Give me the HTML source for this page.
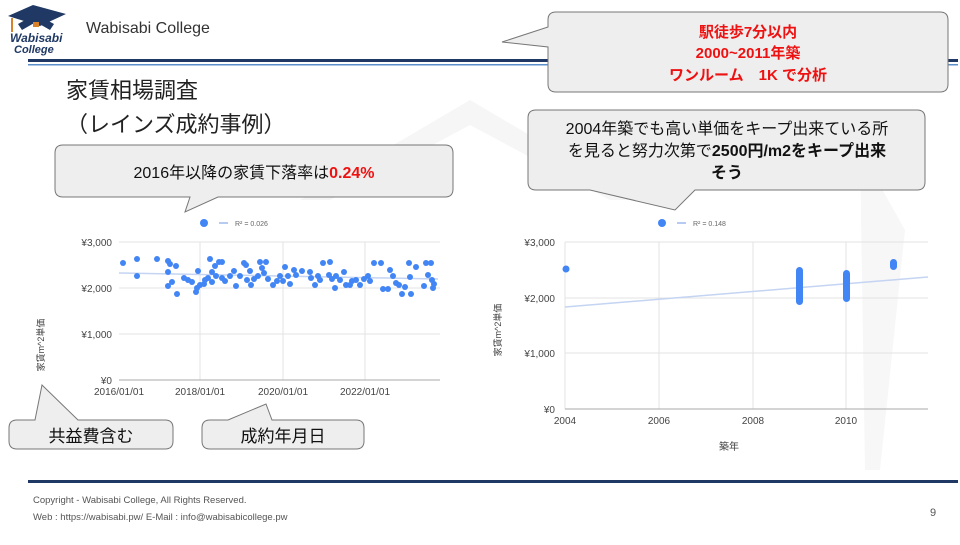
<!DOCTYPE html>
<html><head><meta charset="utf-8"><style>
body{margin:0;width:960px;height:540px;overflow:hidden;background:#fff;font-family:"Liberation Sans","Noto Sans CJK JP",sans-serif}
</style></head><body>
<svg width="960" height="540" viewBox="0 0 960 540" xmlns="http://www.w3.org/2000/svg" font-family="Liberation Sans, Noto Sans CJK JP, sans-serif">
<!-- watermark -->
<polygon points="300,200 470,100 640,200 610,200 470,125 330,200" fill="#f6f6f6"/>
<polygon points="860,150 905,230 880,470 865,470" fill="#f7f7f7"/>
<!-- logo -->
<polygon points="8,16 33,5 66,14 40,26" fill="#1f3864"/>
<polygon points="18,24 36,14 54,24 50,30 36,22 22,30" fill="#1f3864"/>
<rect x="33" y="22" width="6" height="5" fill="#d9822b"/>
<rect x="11" y="18" width="2" height="14" fill="#d9822b"/>
<text x="10" y="42" font-size="12" font-weight="bold" font-style="italic" fill="#1f3864">Wabisabi</text>
<text x="14" y="53" font-size="11" font-weight="bold" font-style="italic" fill="#1f3864">College</text>
<text x="86" y="33" font-size="16" fill="#333">Wabisabi College</text>
<rect x="28" y="59" width="930" height="3" fill="#1f3864"/>
<rect x="28" y="64" width="930" height="1.5" fill="#5b8fc9"/>
<!-- titles -->
<text x="66" y="98" font-size="22" fill="#222">家賃相場調査</text>
<text x="66" y="132" font-size="22" fill="#222">（レインズ成約事例）</text>
<!-- callout top-right -->
<path d="M556,12 H940 Q948,12 948,20 V84 Q948,92 940,92 H556 Q548,92 548,84 V47 L502,42 L548,27 V20 Q548,12 556,12 Z" fill="#eeeeee" stroke="#777" stroke-width="1"/>
<g font-size="15" font-weight="bold" fill="#ee1111" text-anchor="middle">
<text x="748" y="37">駅徒歩7分以内</text>
<text x="748" y="58">2000~2011年築</text>
<text x="748" y="80">ワンルーム　1K で分析</text>
</g>
<!-- callout 2 -->
<path d="M536,110 H917 Q925,110 925,118 V182 Q925,190 917,190 H695 L675,210 L590,190 H536 Q528,190 528,182 V118 Q528,110 536,110 Z" fill="#eeeeee" stroke="#777" stroke-width="1"/>
<g font-size="16" fill="#111" text-anchor="middle">
<text x="727" y="134">2004年築でも高い単価をキープ出来ている所</text>
<text x="727" y="156">を見ると努力次第で<tspan font-weight="bold">2500円/m2をキープ出来</tspan></text>
<text x="727" y="178" font-weight="bold">そう</text>
</g>
<!-- callout 3 -->
<path d="M63,145 H445 Q453,145 453,153 V189 Q453,197 445,197 H218 L185,212 L190,197 H63 Q55,197 55,189 V153 Q55,145 63,145 Z" fill="#eeeeee" stroke="#777" stroke-width="1"/>
<text x="254" y="178" font-size="16" fill="#111" text-anchor="middle">2016年以降の家賃下落率は<tspan fill="#ee1111" font-weight="bold">0.24%</tspan></text>
<!-- bottom callouts -->
<path d="M17,420 H35 L42,385 L78,420 H165 Q173,420 173,428 V441 Q173,449 165,449 H17 Q9,449 9,441 V428 Q9,420 17,420 Z" fill="#eeeeee" stroke="#777"/>
<text x="91" y="442" font-size="17" fill="#111" text-anchor="middle">共益費含む</text>
<path d="M210,420 H228 L266,404 L272,420 H356 Q364,420 364,428 V441 Q364,449 356,449 H210 Q202,449 202,441 V428 Q202,420 210,420 Z" fill="#eeeeee" stroke="#777"/>
<text x="283" y="442" font-size="17" fill="#111" text-anchor="middle">成約年月日</text>
<!-- footer -->
<rect x="28" y="480" width="930" height="3" fill="#1f3864"/>
<text x="33" y="503" font-size="9.5" fill="#555">Copyright - Wabisabi College, All Rights Reserved.</text>
<text x="33" y="520" font-size="9.5" fill="#555">Web : https://wabisabi.pw/   E-Mail :  info@wabisabicollege.pw</text>
<text x="930" y="516" font-size="11" fill="#555">9</text>

<!-- LEFT CHART -->
<g font-size="10" fill="#444">
<circle cx="204" cy="223" r="4" fill="#4285f4"/><line x1="219" y1="223" x2="228" y2="223" stroke="#b7cbf2" stroke-width="2"/>
<text x="235" y="226" font-size="7" fill="#666">R² = 0.026</text>
<g stroke="#e3e3e3" stroke-width="1">
<line x1="119" y1="242" x2="440" y2="242"/><line x1="119" y1="288" x2="440" y2="288"/><line x1="119" y1="334" x2="440" y2="334"/>
<line x1="200" y1="242" x2="200" y2="380"/><line x1="283" y1="242" x2="283" y2="380"/><line x1="365" y1="242" x2="365" y2="380"/>
</g>
<line x1="119" y1="380" x2="440" y2="380" stroke="#aaa"/>
<text x="112" y="246" text-anchor="end">¥3,000</text>
<text x="112" y="292" text-anchor="end">¥2,000</text>
<text x="112" y="338" text-anchor="end">¥1,000</text>
<text x="112" y="384" text-anchor="end">¥0</text>
<text x="119" y="395" text-anchor="middle">2016/01/01</text>
<text x="200" y="395" text-anchor="middle">2018/01/01</text>
<text x="283" y="395" text-anchor="middle">2020/01/01</text>
<text x="365" y="395" text-anchor="middle">2022/01/01</text>
<text transform="translate(44,345) rotate(-90)" font-size="9" text-anchor="middle">家賃m^2単価</text>
<line x1="119" y1="273" x2="438" y2="279" stroke="#c4d4f2" stroke-width="1.5"/>
<g fill="#4285f4">
<circle cx="123" cy="263" r="3"/><circle cx="137" cy="259" r="3"/><circle cx="137" cy="276" r="3"/><circle cx="157" cy="259" r="3"/>
<circle cx="168" cy="261" r="3"/><circle cx="170" cy="264" r="3"/><circle cx="168" cy="272" r="3"/><circle cx="168" cy="286" r="3"/><circle cx="172" cy="282" r="3"/><circle cx="176" cy="266" r="3"/><circle cx="177" cy="294" r="3"/>
<circle cx="184" cy="278" r="3"/><circle cx="188" cy="280" r="3"/><circle cx="192" cy="282" r="3"/><circle cx="196" cy="292" r="3"/><circle cx="197" cy="288" r="3"/><circle cx="198" cy="271" r="3"/><circle cx="200" cy="285" r="3"/>
<circle cx="204" cy="284" r="3"/><circle cx="205" cy="280" r="3"/><circle cx="208" cy="278" r="3"/><circle cx="210" cy="259" r="3"/><circle cx="212" cy="272" r="3"/><circle cx="212" cy="282" r="3"/><circle cx="215" cy="266" r="3"/><circle cx="216" cy="276" r="3"/><circle cx="219" cy="262" r="3"/><circle cx="222" cy="262" r="3"/><circle cx="222" cy="278" r="3"/><circle cx="225" cy="281" r="3"/>
<circle cx="230" cy="276" r="3"/><circle cx="234" cy="271" r="3"/><circle cx="236" cy="286" r="3"/><circle cx="240" cy="276" r="3"/><circle cx="244" cy="263" r="3"/><circle cx="246" cy="265" r="3"/><circle cx="247" cy="280" r="3"/><circle cx="250" cy="271" r="3"/><circle cx="251" cy="285" r="3"/><circle cx="254" cy="279" r="3"/><circle cx="258" cy="276" r="3"/>
<circle cx="260" cy="262" r="3"/><circle cx="262" cy="268" r="3"/><circle cx="264" cy="273" r="3"/><circle cx="266" cy="262" r="3"/><circle cx="268" cy="279" r="3"/><circle cx="273" cy="285" r="3"/><circle cx="277" cy="281" r="3"/><circle cx="280" cy="276" r="3"/><circle cx="283" cy="281" r="3"/><circle cx="285" cy="267" r="3"/><circle cx="288" cy="276" r="3"/><circle cx="290" cy="284" r="3"/><circle cx="294" cy="270" r="3"/><circle cx="296" cy="275" r="3"/><circle cx="302" cy="271" r="3"/>
<circle cx="310" cy="272" r="3"/><circle cx="311" cy="278" r="3"/><circle cx="315" cy="285" r="3"/><circle cx="318" cy="276" r="3"/><circle cx="320" cy="280" r="3"/><circle cx="323" cy="263" r="3"/><circle cx="329" cy="275" r="3"/><circle cx="330" cy="262" r="3"/><circle cx="332" cy="279" r="3"/><circle cx="335" cy="288" r="3"/><circle cx="336" cy="276" r="3"/><circle cx="340" cy="280" r="3"/><circle cx="344" cy="272" r="3"/><circle cx="346" cy="285" r="3"/><circle cx="350" cy="285" r="3"/><circle cx="352" cy="281" r="3"/><circle cx="356" cy="280" r="3"/><circle cx="360" cy="285" r="3"/>
<circle cx="364" cy="279" r="3"/><circle cx="368" cy="276" r="3"/><circle cx="370" cy="281" r="3"/><circle cx="374" cy="263" r="3"/><circle cx="381" cy="263" r="3"/><circle cx="383" cy="289" r="3"/><circle cx="388" cy="289" r="3"/><circle cx="390" cy="270" r="3"/><circle cx="393" cy="276" r="3"/><circle cx="396" cy="283" r="3"/><circle cx="399" cy="285" r="3"/><circle cx="402" cy="294" r="3"/><circle cx="405" cy="287" r="3"/><circle cx="409" cy="263" r="3"/><circle cx="410" cy="277" r="3"/><circle cx="411" cy="294" r="3"/><circle cx="416" cy="267" r="3"/><circle cx="424" cy="286" r="3"/><circle cx="426" cy="263" r="3"/><circle cx="428" cy="275" r="3"/><circle cx="431" cy="263" r="3"/><circle cx="432" cy="280" r="3"/><circle cx="433" cy="288" r="3"/><circle cx="434" cy="284" r="3"/>
</g>
</g>

<!-- RIGHT CHART -->
<g font-size="10" fill="#444">
<circle cx="662" cy="223" r="4" fill="#4285f4"/><line x1="677" y1="223" x2="686" y2="223" stroke="#b7cbf2" stroke-width="2"/>
<text x="693" y="226" font-size="7" fill="#666">R² = 0.148</text>
<g stroke="#e3e3e3" stroke-width="1">
<line x1="565" y1="242" x2="928" y2="242"/><line x1="565" y1="298" x2="928" y2="298"/><line x1="565" y1="353" x2="928" y2="353"/>
<line x1="565" y1="242" x2="565" y2="409"/><line x1="659" y1="242" x2="659" y2="409"/><line x1="753" y1="242" x2="753" y2="409"/><line x1="846" y1="242" x2="846" y2="409"/>
</g>
<line x1="565" y1="409" x2="928" y2="409" stroke="#aaa"/>
<text x="555" y="246" text-anchor="end">¥3,000</text>
<text x="555" y="302" text-anchor="end">¥2,000</text>
<text x="555" y="357" text-anchor="end">¥1,000</text>
<text x="555" y="413" text-anchor="end">¥0</text>
<text x="565" y="424" text-anchor="middle">2004</text>
<text x="659" y="424" text-anchor="middle">2006</text>
<text x="753" y="424" text-anchor="middle">2008</text>
<text x="846" y="424" text-anchor="middle">2010</text>
<text x="729" y="450" text-anchor="middle">築年</text>
<text transform="translate(501,330) rotate(-90)" font-size="9" text-anchor="middle">家賃m^2単価</text>
<line x1="565" y1="307" x2="928" y2="277" stroke="#c4d4f2" stroke-width="1.5"/>
<g fill="#4285f4">
<circle cx="566" cy="269" r="3.5"/>
<rect x="796" y="267" width="7" height="38" rx="3.5"/>
<rect x="843" y="270" width="7" height="32" rx="3.5"/>
<rect x="890" y="259" width="7" height="11" rx="3.5"/>
</g>
</g>
</svg>
</body></html>
